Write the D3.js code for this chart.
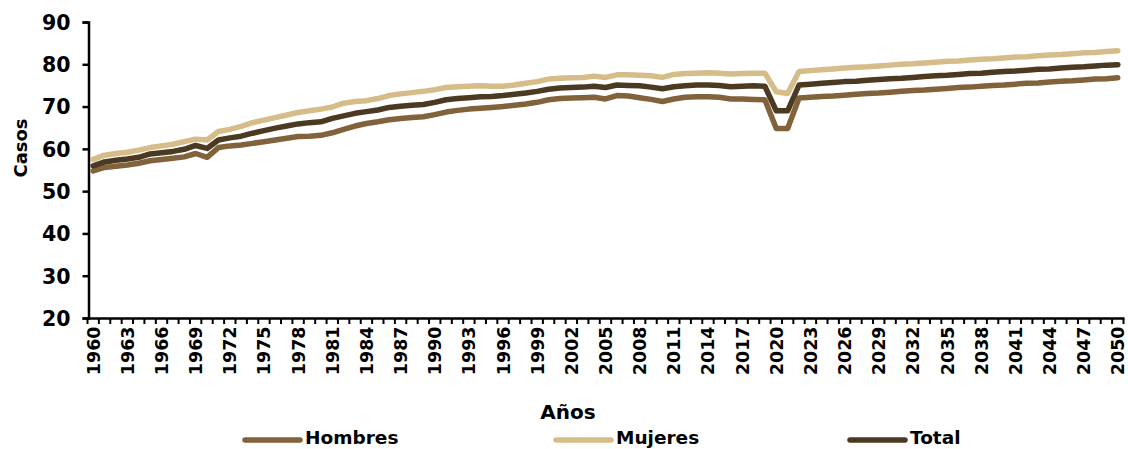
<!DOCTYPE html>
<html><head><meta charset="utf-8">
<script src="https://cdn.jsdelivr.net/npm/d3@7"></script>
<style>
html,body{margin:0;padding:0;background:#fff;}
text{font-family:"DejaVu Sans",sans-serif;font-weight:bold;fill:#000;}
</style></head>
<body>
<svg id="chart" width="1128" height="449"></svg>
<script>
const years = d3.range(1960, 2051);
const tickLabels = years.filter((y, i) => i % 3 === 0).map(String);
const yTicks = [20, 30, 40, 50, 60, 70, 80, 90];
const seriesNames = ["Hombres", "Mujeres", "Total"];
const colors = ["#82623A", "#D6BC88", "#4C3921"];

const hombres = [
 54.8,55.6,55.9,56.2,56.6,57.2,57.5,57.8,58.1,58.9,58.0,
 60.3,60.7,60.9,61.3,61.7,62.1,62.5,62.9,63.0,63.2,
 63.8,64.6,65.4,66.0,66.4,66.9,67.2,67.4,67.6,68.1,
 68.7,69.1,69.4,69.6,69.8,70.0,70.3,70.6,71.0,71.6,
 71.9,72.0,72.1,72.2,71.8,72.6,72.5,72.1,71.7,71.2,
 71.8,72.2,72.3,72.3,72.2,71.8,71.8,71.7,71.6,64.8,
 64.8,72.0,72.2,72.4,72.5,72.7,72.9,73.1,73.2,73.4,
 73.6,73.8,73.9,74.1,74.3,74.5,74.6,74.8,75.0,75.1,
 75.3,75.5,75.6,75.8,76.0,76.1,76.3,76.5,76.6,76.8];
const mujeres = [
 57.5,58.5,58.9,59.2,59.7,60.3,60.7,61.1,61.7,62.3,62.1,
 64.1,64.6,65.3,66.2,66.8,67.4,68.0,68.6,69.0,69.4,
 69.9,70.8,71.2,71.4,71.9,72.6,73.0,73.3,73.6,74.0,
 74.5,74.7,74.8,74.9,74.8,74.8,75.1,75.5,75.9,76.5,
 76.7,76.8,76.9,77.2,76.9,77.5,77.5,77.4,77.3,76.9,
 77.6,77.8,77.9,78.0,77.9,77.7,77.8,77.9,77.9,73.5,
 73.1,78.3,78.5,78.7,78.9,79.1,79.3,79.4,79.6,79.8,
 80.0,80.1,80.3,80.5,80.7,80.8,81.0,81.2,81.3,81.5,
 81.7,81.8,82.0,82.2,82.3,82.5,82.7,82.8,83.0,83.2];
const total = [
 56.0,56.9,57.3,57.6,58.0,58.8,59.1,59.4,59.9,60.8,60.1,
 62.1,62.6,63.0,63.7,64.3,64.9,65.4,65.9,66.2,66.4,
 67.2,67.8,68.4,68.8,69.2,69.8,70.1,70.3,70.5,71.0,
 71.6,71.9,72.1,72.3,72.4,72.6,72.9,73.2,73.6,74.1,
 74.4,74.5,74.6,74.8,74.5,75.1,75.0,74.9,74.6,74.2,
 74.7,74.9,75.1,75.1,75.0,74.7,74.8,74.9,74.8,69.0,
 69.0,75.1,75.3,75.5,75.7,75.9,76.0,76.2,76.4,76.6,
 76.7,76.9,77.1,77.3,77.4,77.6,77.8,77.9,78.1,78.3,
 78.4,78.6,78.8,78.9,79.1,79.3,79.4,79.6,79.8,79.9];
const seriesValues = [hombres, mujeres, total];

const svg = d3.select("#chart");
const x = d3.scaleBand().domain(years.map(String)).range([87.5, 1123.5]).padding(0);
const y = d3.scaleLinear().domain([20, 90]).range([318, 22]);

// y axis
const yAxis = svg.append("g").attr("transform", "translate(88.5,0)")
  .call(d3.axisLeft(y).tickValues(yTicks).tickSize(6).tickPadding(12));
yAxis.select(".domain").attr("stroke", "#000").attr("stroke-width", 2.5);
yAxis.selectAll(".tick line").attr("stroke", "#000").attr("stroke-width", 2.5);
yAxis.selectAll(".tick text").style("font-size", "20.5px").attr("dy", "0.36em");

// x axis
const xAxisG = svg.append("g").attr("transform", "translate(0,318.5)");
xAxisG.append("line").attr("x1", 87.5).attr("x2", 1124.5).attr("y1", 0).attr("y2", 0)
  .attr("stroke", "#000").attr("stroke-width", 2.5);
xAxisG.selectAll("line.tk").data(years.concat([2051])).join("line").attr("class", "tk")
  .attr("x1", d => d === 2051 ? x("2050") + x.bandwidth() : x(String(d)))
  .attr("x2", d => d === 2051 ? x("2050") + x.bandwidth() : x(String(d)))
  .attr("y1", 0).attr("y2", 5.5).attr("stroke", "#000").attr("stroke-width", 2);
xAxisG.selectAll("text").data(tickLabels).join("text")
  .attr("transform", d => `translate(${x(d) + x.bandwidth() / 2 + 6.5},8) rotate(-90)`)
  .attr("text-anchor", "end").style("font-size", "17.5px").text(d => d);

// axis titles
svg.append("text").attr("transform", "translate(27,148) rotate(-90)")
  .attr("text-anchor", "middle").style("font-size", "18px").text("Casos");
svg.append("text").attr("x", 568).attr("y", 419)
  .attr("text-anchor", "middle").style("font-size", "20px").text("Años");

// lines
const line = d3.line().x((d, i) => x(String(years[i])) + x.bandwidth() / 2).y(d => y(d));
svg.append("g").selectAll("path").data(seriesValues).join("path")
  .attr("d", d => line(d)).attr("fill", "none")
  .attr("stroke", (d, i) => colors[i]).attr("stroke-width", 5.5)
  .attr("stroke-linejoin", "round").attr("stroke-linecap", "round");

// legend
const legendX = [245, 556, 850];
const leg = svg.append("g").selectAll("g").data(seriesNames).join("g")
  .attr("transform", (d, i) => `translate(${legendX[i]},440)`);
leg.append("line").attr("x1", 0).attr("x2", 55).attr("y1", 0).attr("y2", 0)
  .attr("stroke", (d, i) => colors[i]).attr("stroke-width", 5.5).attr("stroke-linecap", "round");
leg.append("text").attr("x", 60).attr("y", 4).style("font-size", "18.5px").text(d => d);
</script>
</body></html>
